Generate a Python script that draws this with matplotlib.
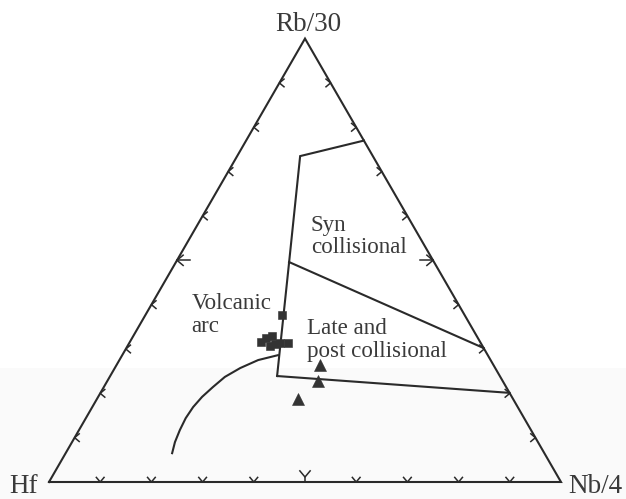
import numpy as np
import matplotlib
matplotlib.use("Agg")
import matplotlib.pyplot as plt
from matplotlib.patches import Rectangle

# ---- Data (ternary fractions: Rb/30, Nb/4; Hf = 1 - Rb - Nb) ----
corner_labels = ["Rb/30", "Hf", "Nb/4"]

# field boundaries
upper_rb = [0.770, 0.735, 0.496, 0.239]
upper_nb = [0.230, 0.123, 0.221, 0.326]

middle_rb = [0.496, 0.302]
middle_nb = [0.221, 0.698]

lower_rb = [0.239, 0.201]
lower_nb = [0.326, 0.799]

curve_rb = [0.286, 0.275, 0.257, 0.237, 0.214, 0.192, 0.169, 0.144, 0.117, 0.090, 0.065]
curve_nb = [0.304, 0.271, 0.245, 0.225, 0.213, 0.203, 0.197, 0.195, 0.197, 0.201, 0.208]

# samples
square_rb = [0.377, 0.316, 0.325, 0.329, 0.307, 0.311, 0.314, 0.314]
square_nb = [0.267, 0.256, 0.261, 0.271, 0.278, 0.286, 0.294, 0.310]

triangle_rb = [0.264, 0.228, 0.187]
triangle_nb = [0.397, 0.412, 0.393]

field_labels = ["Volcanic\narc", "Syn\ncollisional", "Late and\npost collisional"]

tick_fracs = [0.1, 0.2, 0.3, 0.4, 0.5, 0.6, 0.7, 0.8, 0.9]

# ---- helpers ----
H = np.sqrt(3) / 2


def tern(rb, nb):
    rb = np.asarray(rb, float)
    nb = np.asarray(nb, float)
    return nb + rb / 2, rb * H


LC = "#2a2a2a"
TC = "#3a3a3a"
FONT = "Liberation Serif"
PX = 1 / 512.0

fig = plt.figure(figsize=(6.26, 4.99), dpi=100)
ax = fig.add_axes([0, 0, 1, 1])
ax.set_xlim(-49 * PX, 577 * PX)
ax.set_ylim(-17 * PX, 482 * PX)
ax.axis("off")

# faint scan-tone band in the lower part
ax.add_patch(Rectangle((-49 * PX, -17 * PX), 626 * PX, 131 * PX,
                       facecolor="#fafafa", edgecolor="none", zorder=0))

# triangle frame
fx, fy = tern([0, 1, 0, 0], [0, 0, 1, 0])
ax.plot(fx, fy, color=LC, lw=1.5, solid_joinstyle="miter")


def chevron(px, py, theta, big=False, raised=0.0):
    L = (8 if big else 6) * PX
    a = np.deg2rad(40)
    th = np.deg2rad(theta)
    bx = px + raised * np.cos(th)
    by = py + raised * np.sin(th)
    xs = [bx + L * np.cos(th + a), bx, bx + L * np.cos(th - a)]
    ys = [by + L * np.sin(th + a), by, by + L * np.sin(th - a)]
    ax.plot(xs, ys, color=LC, lw=1.1)
    if big:
        S = (raised if raised else 13 * PX)
        ax.plot([px, px + S * np.cos(th)], [py, py + S * np.sin(th)], color=LC, lw=1.1)


for t in tick_fracs:
    big = abs(t - 0.5) < 1e-9
    # left edge (Hf - Rb)
    x, y = tern(t, 0)
    chevron(float(x), float(y), 0, big)
    # right edge (Nb - Rb)
    x, y = tern(t, 1 - t)
    chevron(float(x), float(y), 180, big)
    # bottom edge (Hf - Nb)
    x, y = tern(0, t)
    chevron(float(x), float(y), 90, big, raised=(5 * PX if big else 0.0))

# boundaries
for rb, nb in [(upper_rb, upper_nb), (middle_rb, middle_nb), (lower_rb, lower_nb)]:
    x, y = tern(rb, nb)
    ax.plot(x, y, color=LC, lw=1.5, solid_joinstyle="miter")
x, y = tern(curve_rb, curve_nb)
ax.plot(x, y, color=LC, lw=1.5)

# samples
x, y = tern(square_rb, square_nb)
ax.plot(x, y, linestyle="none", marker="s", ms=6.4, color="#333333", mec="#333333", mew=0.4)
x, y = tern(triangle_rb, triangle_nb)
ax.plot(x, y, linestyle="none", marker="^", ms=8.4, color="#333333", mec="#333333", mew=0.4)

# corner labels
ax.text(0.5 + 3 * PX, H + 8 * PX, corner_labels[0], ha="center", va="baseline",
        fontsize=19.5, family=FONT, color=TC)
ax.text(-11 * PX, -11 * PX, corner_labels[1], ha="right", va="baseline",
        fontsize=19.5, family=FONT, color=TC)
ax.text(1 + 7 * PX, -11 * PX, corner_labels[2], ha="left", va="baseline",
        fontsize=19.5, family=FONT, color=TC)

# field labels (anchored at the baseline of the last line)
label_pos = [(0.2787, 0.2936), (0.5111, 0.4473), (0.5033, 0.2447)]
for lab, (lx, ly) in zip(field_labels, label_pos):
    ax.text(lx, ly, lab, ha="left", va="baseline", fontsize=16.6,
            family=FONT, color=TC, linespacing=1.08)

fig.savefig("out.png", dpi=100)
